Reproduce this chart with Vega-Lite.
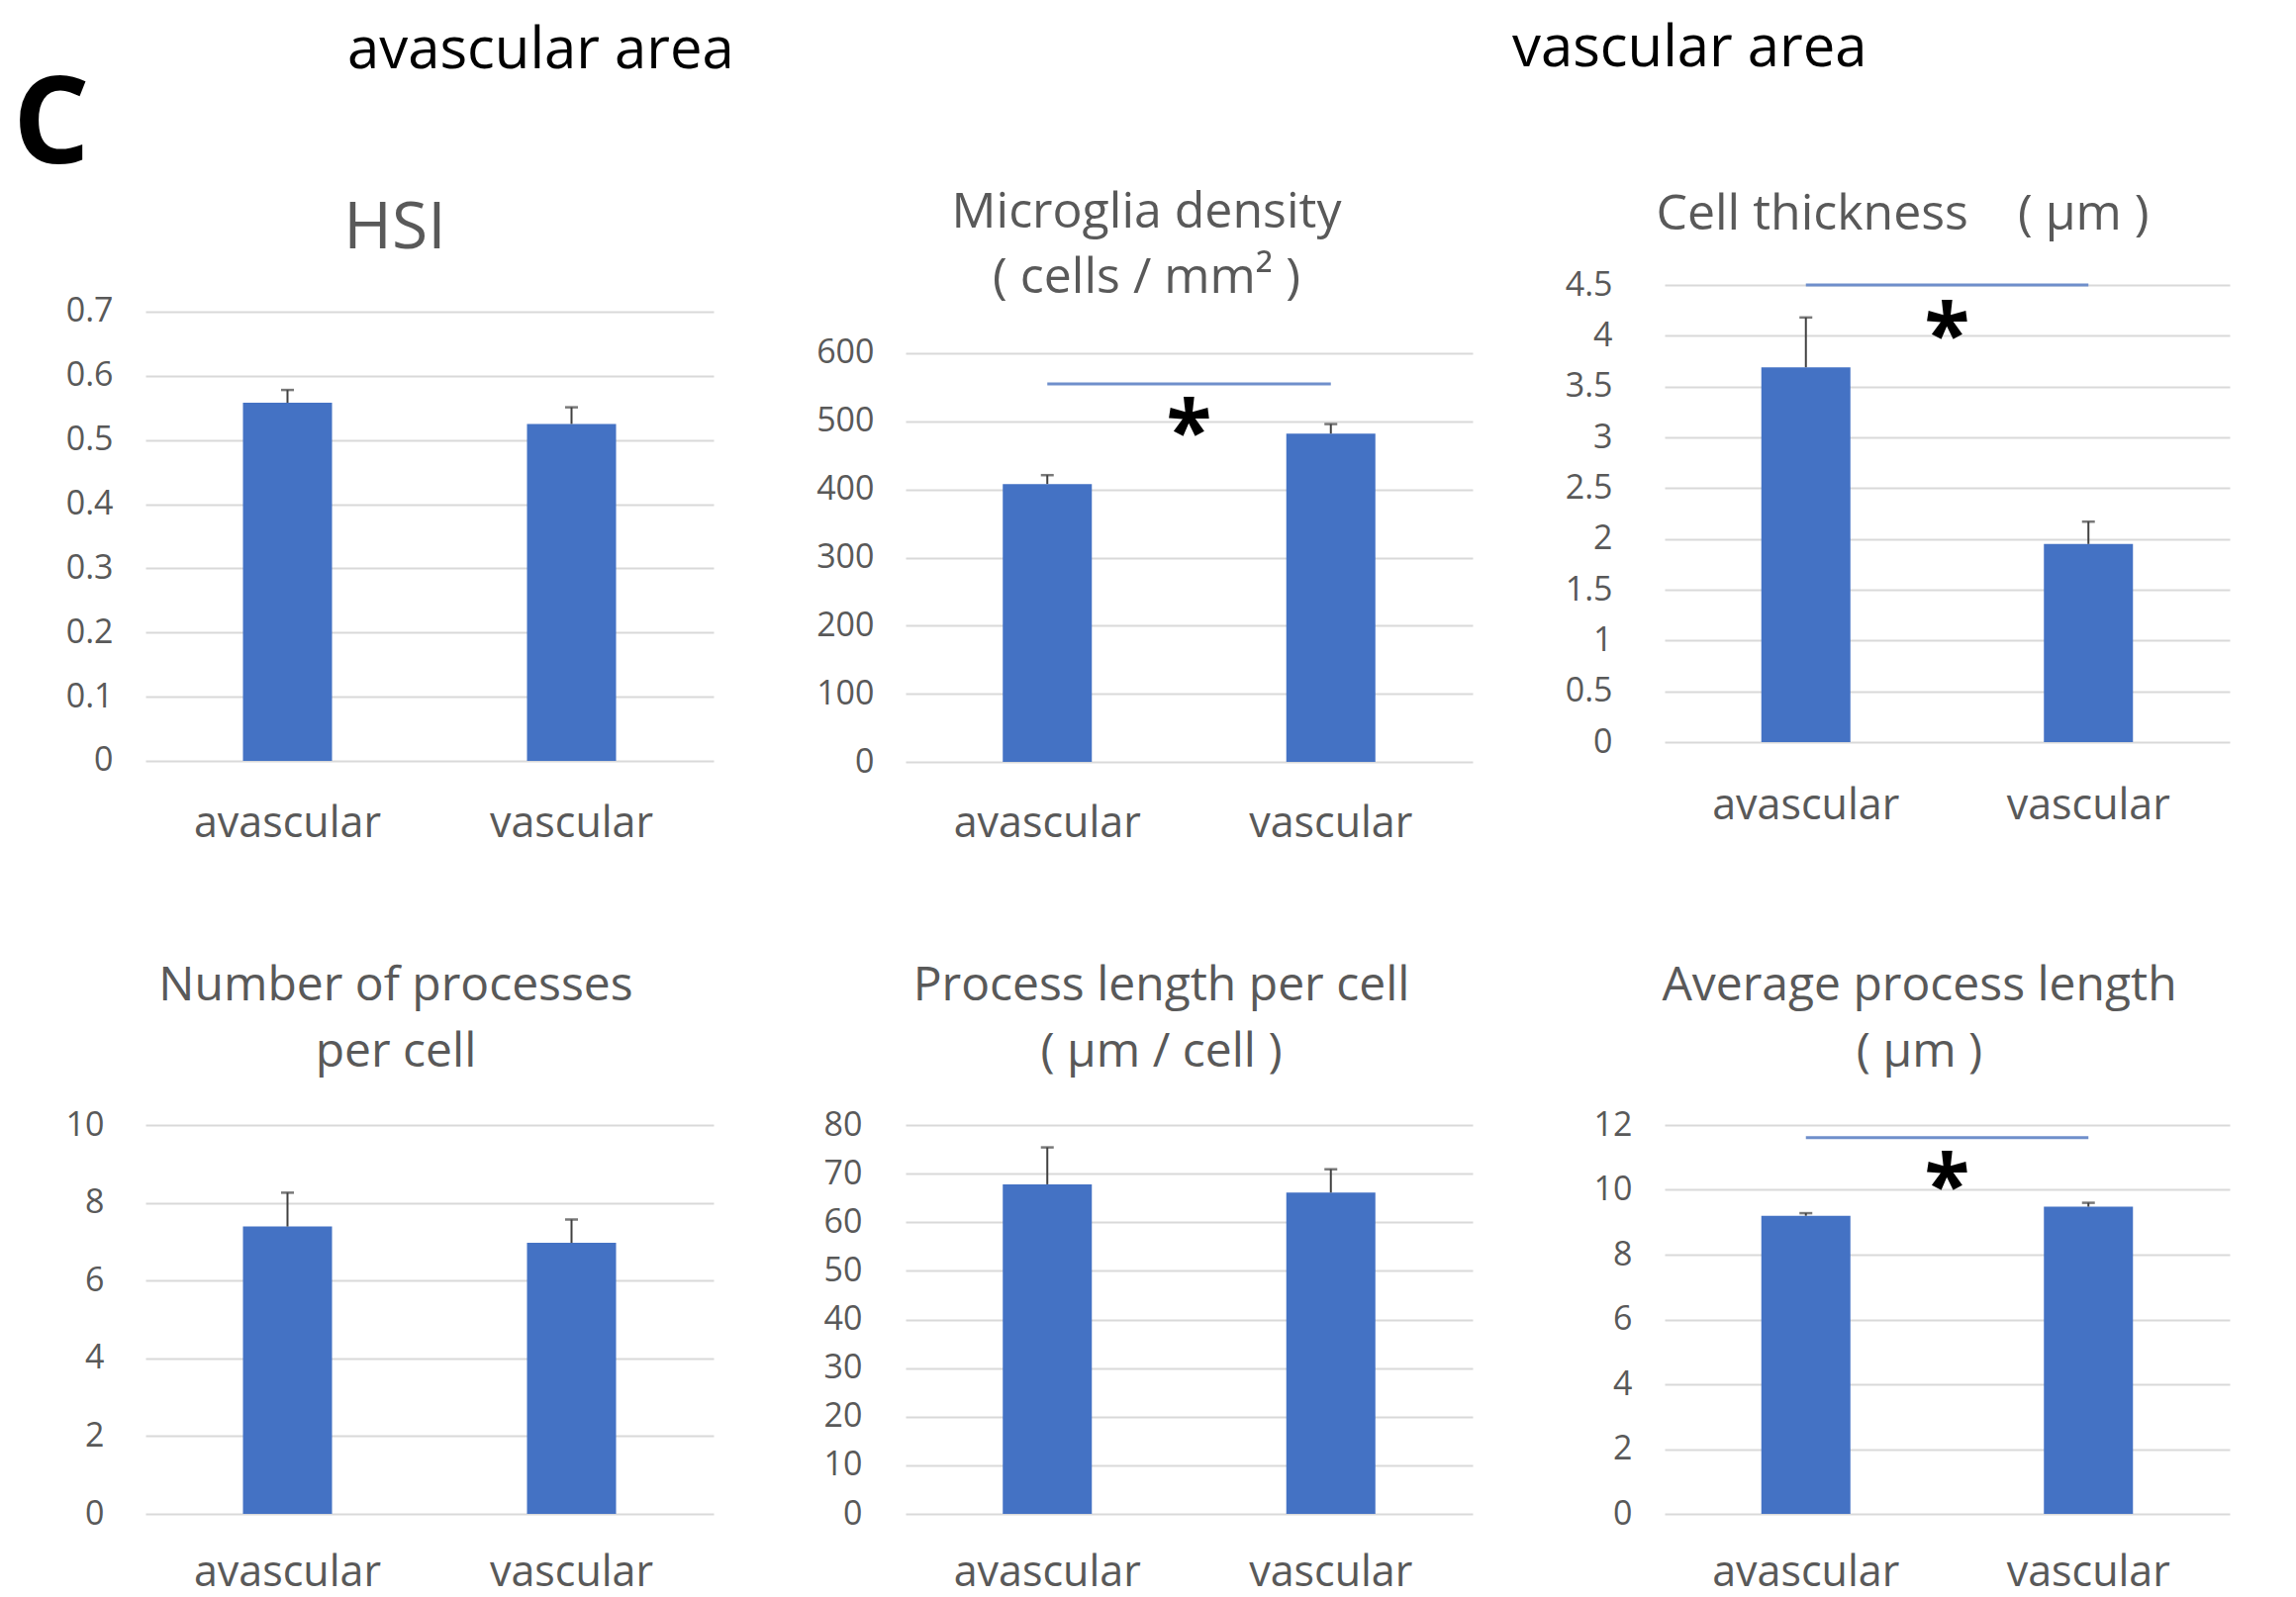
{
  "$schema": "https://vega.github.io/schema/vega-lite/v6.json",
  "background": "white",
  "padding": {"left": 13, "top": 21, "right": 10, "bottom": 10},
  "title": {"text": "C", "anchor": "start", "frame": "group", "dx": -134, "offset": -265.5, "fontSize": 122, "fontWeight": "bold", "color": "#000000", "baseline": "alphabetic", "font": "Open Sans"},
  "datasets": {
    "bars": [
      {"panel": "HSI", "group": "avascular", "value": 0.558, "upper": 0.578},
      {"panel": "HSI", "group": "vascular", "value": 0.525, "upper": 0.551},
      {"panel": "Density", "group": "avascular", "value": 408, "upper": 421},
      {"panel": "Density", "group": "vascular", "value": 482, "upper": 496},
      {"panel": "Thickness", "group": "avascular", "value": 3.69, "upper": 4.18},
      {"panel": "Thickness", "group": "vascular", "value": 1.95, "upper": 2.17},
      {"panel": "Processes", "group": "avascular", "value": 7.39, "upper": 8.26},
      {"panel": "Processes", "group": "vascular", "value": 6.97, "upper": 7.57},
      {"panel": "ProcLength", "group": "avascular", "value": 67.8, "upper": 75.4},
      {"panel": "ProcLength", "group": "vascular", "value": 66.1, "upper": 70.9},
      {"panel": "AvgLength", "group": "avascular", "value": 9.2, "upper": 9.28},
      {"panel": "AvgLength", "group": "vascular", "value": 9.48, "upper": 9.6}
    ],
    "sig": [
      {"panel": "Density", "from": "avascular", "to": "vascular", "line": 555, "star": 507, "label": "*"},
      {"panel": "Thickness", "from": "avascular", "to": "vascular", "line": 4.5, "star": 4.16, "label": "*"},
      {"panel": "AvgLength", "from": "avascular", "to": "vascular", "line": 11.61, "star": 10.6, "label": "*"}
    ]
  },
  "vconcat": [
    {
      "title": {"text": "avascular area", "anchor": "start", "frame": "group", "dx": 204, "offset": -105.5, "fontSize": 58, "color": "#000000", "baseline": "alphabetic", "font": "Open Sans"},
      "vconcat": [
        {
          "title": {"text": "vascular area", "anchor": "start", "frame": "group", "dx": 1381, "offset": 65, "fontSize": 58, "color": "#000000", "baseline": "alphabetic", "font": "Open Sans"},
          "columns": 3,
          "bounds": "flush",
          "align": "each",
          "spacing": {"row": 366, "column": 194},
          "concat": [
            {
              "width": 574, "height": 483,
              "title": {"text": "HSI", "fontSize": 66, "frame": "group", "anchor": "middle", "dx": -35, "offset": -29, "baseline": "alphabetic"},
              "layer": [
                {"data": {"name": "bars"}, "transform": [{"filter": {"field": "panel", "equal": "HSI"}}],
                 "mark": {"type": "bar", "width": 90, "color": "#4472C4"},
                 "encoding": {
                   "x": {"field": "group", "type": "nominal", "title": null, "scale": {"domain": ["avascular", "vascular"], "paddingInner": 0, "paddingOuter": 0}, "axis": {"labelPadding": 40}},
                   "y": {"field": "value", "type": "quantitative", "title": null, "scale": {"domain": [-0.0031, 0.7416], "nice": false, "zero": false}, "axis": {"values": [0, 0.1, 0.2, 0.3, 0.4, 0.5, 0.6, 0.7], "format": ".2~f", "labelPadding": 33}}
                 }},
                {"data": {"name": "bars"}, "transform": [{"filter": {"field": "panel", "equal": "HSI"}}],
                 "mark": {"type": "rule", "color": "#404040", "strokeWidth": 2},
                 "encoding": {
                   "x": {"field": "group", "type": "nominal", "scale": {"domain": ["avascular", "vascular"], "paddingInner": 0, "paddingOuter": 0}},
                   "y": {"field": "value", "type": "quantitative", "scale": {"domain": [-0.0031, 0.7416], "nice": false, "zero": false}},
                   "y2": {"field": "upper"}
                 }},
                {"data": {"name": "bars"}, "transform": [{"filter": {"field": "panel", "equal": "HSI"}}],
                 "mark": {"type": "tick", "color": "#404040", "thickness": 2.5, "size": 13},
                 "encoding": {
                   "x": {"field": "group", "type": "nominal", "scale": {"domain": ["avascular", "vascular"], "paddingInner": 0, "paddingOuter": 0}},
                   "y": {"field": "upper", "type": "quantitative", "scale": {"domain": [-0.0031, 0.7416], "nice": false, "zero": false}}
                 }}
              ]
            },
            {
              "width": 573, "height": 483,
              "title": {"text": ["Microglia density", "( cells / mm² )"], "fontSize": 50, "lineHeight": 66, "frame": "group", "anchor": "middle", "dx": -43, "offset": -58, "baseline": "alphabetic"},
              "layer": [
                {"data": {"name": "bars"}, "transform": [{"filter": {"field": "panel", "equal": "Density"}}],
                 "mark": {"type": "bar", "width": 90, "color": "#4472C4"},
                 "encoding": {
                   "x": {"field": "group", "type": "nominal", "title": null, "scale": {"domain": ["avascular", "vascular"], "paddingInner": 0, "paddingOuter": 0}, "axis": {"labelPadding": 40}},
                   "y": {"field": "value", "type": "quantitative", "title": null, "scale": {"domain": [-1.45, 700.24], "nice": false, "zero": false}, "axis": {"values": [0, 100, 200, 300, 400, 500, 600], "format": ".2~f", "labelPadding": 32}}
                 }},
                {"data": {"name": "bars"}, "transform": [{"filter": {"field": "panel", "equal": "Density"}}],
                 "mark": {"type": "rule", "color": "#404040", "strokeWidth": 2},
                 "encoding": {
                   "x": {"field": "group", "type": "nominal", "scale": {"domain": ["avascular", "vascular"], "paddingInner": 0, "paddingOuter": 0}},
                   "y": {"field": "value", "type": "quantitative", "scale": {"domain": [-1.45, 700.24], "nice": false, "zero": false}},
                   "y2": {"field": "upper"}
                 }},
                {"data": {"name": "bars"}, "transform": [{"filter": {"field": "panel", "equal": "Density"}}],
                 "mark": {"type": "tick", "color": "#404040", "thickness": 2.5, "size": 13},
                 "encoding": {
                   "x": {"field": "group", "type": "nominal", "scale": {"domain": ["avascular", "vascular"], "paddingInner": 0, "paddingOuter": 0}},
                   "y": {"field": "upper", "type": "quantitative", "scale": {"domain": [-1.45, 700.24], "nice": false, "zero": false}}
                 }},
                {"data": {"name": "sig"}, "transform": [{"filter": {"field": "panel", "equal": "Density"}}],
                 "mark": {"type": "rule", "color": "#6F8FCB", "strokeWidth": 3},
                 "encoding": {
                   "x": {"field": "from", "type": "nominal", "scale": {"domain": ["avascular", "vascular"], "paddingInner": 0, "paddingOuter": 0}},
                   "x2": {"field": "to"},
                   "y": {"field": "line", "type": "quantitative", "scale": {"domain": [-1.45, 700.24], "nice": false, "zero": false}}
                 }},
                {"data": {"name": "sig"}, "transform": [{"filter": {"field": "panel", "equal": "Density"}}],
                 "mark": {"type": "text", "font": "Open Sans", "fontWeight": "bold", "fontSize": 84, "color": "#000000", "baseline": "alphabetic", "align": "center", "dy": 44},
                 "encoding": {
                   "x": {"field": "to", "type": "nominal", "bandPosition": 0, "scale": {"domain": ["avascular", "vascular"], "paddingInner": 0, "paddingOuter": 0}},
                   "y": {"field": "star", "type": "quantitative", "scale": {"domain": [-1.45, 700.24], "nice": false, "zero": false}},
                   "text": {"field": "label"}
                 }}
              ]
            },
            {
              "width": 571, "height": 483,
              "title": {"text": "Cell thickness\u2003( µm )", "fontSize": 50, "frame": "group", "anchor": "middle", "dx": -45, "offset": -11, "baseline": "alphabetic"},
              "layer": [
                {"data": {"name": "bars"}, "transform": [{"filter": {"field": "panel", "equal": "Thickness"}}],
                 "mark": {"type": "bar", "width": 90, "color": "#4472C4"},
                 "encoding": {
                   "x": {"field": "group", "type": "nominal", "title": null, "scale": {"domain": ["avascular", "vascular"], "paddingInner": 0, "paddingOuter": 0}, "axis": {"labelPadding": 22}},
                   "y": {"field": "value", "type": "quantitative", "title": null, "scale": {"domain": [-0.2045, 4.5], "nice": false, "zero": false}, "axis": {"values": [0, 0.5, 1, 1.5, 2, 2.5, 3, 3.5, 4, 4.5], "format": ".2~f", "labelPadding": 53}}
                 }},
                {"data": {"name": "bars"}, "transform": [{"filter": {"field": "panel", "equal": "Thickness"}}],
                 "mark": {"type": "rule", "color": "#404040", "strokeWidth": 2},
                 "encoding": {
                   "x": {"field": "group", "type": "nominal", "scale": {"domain": ["avascular", "vascular"], "paddingInner": 0, "paddingOuter": 0}},
                   "y": {"field": "value", "type": "quantitative", "scale": {"domain": [-0.2045, 4.5], "nice": false, "zero": false}},
                   "y2": {"field": "upper"}
                 }},
                {"data": {"name": "bars"}, "transform": [{"filter": {"field": "panel", "equal": "Thickness"}}],
                 "mark": {"type": "tick", "color": "#404040", "thickness": 2.5, "size": 13},
                 "encoding": {
                   "x": {"field": "group", "type": "nominal", "scale": {"domain": ["avascular", "vascular"], "paddingInner": 0, "paddingOuter": 0}},
                   "y": {"field": "upper", "type": "quantitative", "scale": {"domain": [-0.2045, 4.5], "nice": false, "zero": false}}
                 }},
                {"data": {"name": "sig"}, "transform": [{"filter": {"field": "panel", "equal": "Thickness"}}],
                 "mark": {"type": "rule", "color": "#6F8FCB", "strokeWidth": 3},
                 "encoding": {
                   "x": {"field": "from", "type": "nominal", "scale": {"domain": ["avascular", "vascular"], "paddingInner": 0, "paddingOuter": 0}},
                   "x2": {"field": "to"},
                   "y": {"field": "line", "type": "quantitative", "scale": {"domain": [-0.2045, 4.5], "nice": false, "zero": false}}
                 }},
                {"data": {"name": "sig"}, "transform": [{"filter": {"field": "panel", "equal": "Thickness"}}],
                 "mark": {"type": "text", "font": "Open Sans", "fontWeight": "bold", "fontSize": 84, "color": "#000000", "baseline": "alphabetic", "align": "center", "dy": 44},
                 "encoding": {
                   "x": {"field": "to", "type": "nominal", "bandPosition": 0, "scale": {"domain": ["avascular", "vascular"], "paddingInner": 0, "paddingOuter": 0}},
                   "y": {"field": "star", "type": "quantitative", "scale": {"domain": [-0.2045, 4.5], "nice": false, "zero": false}},
                   "text": {"field": "label"}
                 }}
              ]
            },
            {
              "width": 574, "height": 393,
              "title": {"text": ["Number of processes", "per cell"], "fontSize": 48, "lineHeight": 67, "frame": "group", "anchor": "middle", "dx": -34, "offset": -6, "baseline": "alphabetic"},
              "layer": [
                {"data": {"name": "bars"}, "transform": [{"filter": {"field": "panel", "equal": "Processes"}}],
                 "mark": {"type": "bar", "width": 90, "color": "#4472C4"},
                 "encoding": {
                   "x": {"field": "group", "type": "nominal", "title": null, "scale": {"domain": ["avascular", "vascular"], "paddingInner": 0, "paddingOuter": 0}, "axis": {"labelPadding": 38}},
                   "y": {"field": "value", "type": "quantitative", "title": null, "scale": {"domain": [0, 10], "nice": false, "zero": false}, "axis": {"values": [0, 2, 4, 6, 8, 10], "format": ".2~f", "labelPadding": 42}}
                 }},
                {"data": {"name": "bars"}, "transform": [{"filter": {"field": "panel", "equal": "Processes"}}],
                 "mark": {"type": "rule", "color": "#404040", "strokeWidth": 2},
                 "encoding": {
                   "x": {"field": "group", "type": "nominal", "scale": {"domain": ["avascular", "vascular"], "paddingInner": 0, "paddingOuter": 0}},
                   "y": {"field": "value", "type": "quantitative", "scale": {"domain": [0, 10], "nice": false, "zero": false}},
                   "y2": {"field": "upper"}
                 }},
                {"data": {"name": "bars"}, "transform": [{"filter": {"field": "panel", "equal": "Processes"}}],
                 "mark": {"type": "tick", "color": "#404040", "thickness": 2.5, "size": 13},
                 "encoding": {
                   "x": {"field": "group", "type": "nominal", "scale": {"domain": ["avascular", "vascular"], "paddingInner": 0, "paddingOuter": 0}},
                   "y": {"field": "upper", "type": "quantitative", "scale": {"domain": [0, 10], "nice": false, "zero": false}}
                 }}
              ]
            },
            {
              "width": 573, "height": 393,
              "title": {"text": ["Process length per cell", "( µm / cell )"], "fontSize": 48, "lineHeight": 67, "frame": "group", "anchor": "middle", "dx": -28, "offset": -6, "baseline": "alphabetic"},
              "layer": [
                {"data": {"name": "bars"}, "transform": [{"filter": {"field": "panel", "equal": "ProcLength"}}],
                 "mark": {"type": "bar", "width": 90, "color": "#4472C4"},
                 "encoding": {
                   "x": {"field": "group", "type": "nominal", "title": null, "scale": {"domain": ["avascular", "vascular"], "paddingInner": 0, "paddingOuter": 0}, "axis": {"labelPadding": 38}},
                   "y": {"field": "value", "type": "quantitative", "title": null, "scale": {"domain": [0, 80], "nice": false, "zero": false}, "axis": {"values": [0, 10, 20, 30, 40, 50, 60, 70, 80], "format": ".2~f", "labelPadding": 44}}
                 }},
                {"data": {"name": "bars"}, "transform": [{"filter": {"field": "panel", "equal": "ProcLength"}}],
                 "mark": {"type": "rule", "color": "#404040", "strokeWidth": 2},
                 "encoding": {
                   "x": {"field": "group", "type": "nominal", "scale": {"domain": ["avascular", "vascular"], "paddingInner": 0, "paddingOuter": 0}},
                   "y": {"field": "value", "type": "quantitative", "scale": {"domain": [0, 80], "nice": false, "zero": false}},
                   "y2": {"field": "upper"}
                 }},
                {"data": {"name": "bars"}, "transform": [{"filter": {"field": "panel", "equal": "ProcLength"}}],
                 "mark": {"type": "tick", "color": "#404040", "thickness": 2.5, "size": 13},
                 "encoding": {
                   "x": {"field": "group", "type": "nominal", "scale": {"domain": ["avascular", "vascular"], "paddingInner": 0, "paddingOuter": 0}},
                   "y": {"field": "upper", "type": "quantitative", "scale": {"domain": [0, 80], "nice": false, "zero": false}}
                 }}
              ]
            },
            {
              "width": 571, "height": 393,
              "title": {"text": ["Average process length", "( µm )"], "fontSize": 48, "lineHeight": 67, "frame": "group", "anchor": "middle", "dx": -28, "offset": -6, "baseline": "alphabetic"},
              "layer": [
                {"data": {"name": "bars"}, "transform": [{"filter": {"field": "panel", "equal": "AvgLength"}}],
                 "mark": {"type": "bar", "width": 90, "color": "#4472C4"},
                 "encoding": {
                   "x": {"field": "group", "type": "nominal", "title": null, "scale": {"domain": ["avascular", "vascular"], "paddingInner": 0, "paddingOuter": 0}, "axis": {"labelPadding": 38}},
                   "y": {"field": "value", "type": "quantitative", "title": null, "scale": {"domain": [0, 12], "nice": false, "zero": false}, "axis": {"values": [0, 2, 4, 6, 8, 10, 12], "format": ".2~f", "labelPadding": 33}}
                 }},
                {"data": {"name": "bars"}, "transform": [{"filter": {"field": "panel", "equal": "AvgLength"}}],
                 "mark": {"type": "rule", "color": "#404040", "strokeWidth": 2},
                 "encoding": {
                   "x": {"field": "group", "type": "nominal", "scale": {"domain": ["avascular", "vascular"], "paddingInner": 0, "paddingOuter": 0}},
                   "y": {"field": "value", "type": "quantitative", "scale": {"domain": [0, 12], "nice": false, "zero": false}},
                   "y2": {"field": "upper"}
                 }},
                {"data": {"name": "bars"}, "transform": [{"filter": {"field": "panel", "equal": "AvgLength"}}],
                 "mark": {"type": "tick", "color": "#404040", "thickness": 2.5, "size": 13},
                 "encoding": {
                   "x": {"field": "group", "type": "nominal", "scale": {"domain": ["avascular", "vascular"], "paddingInner": 0, "paddingOuter": 0}},
                   "y": {"field": "upper", "type": "quantitative", "scale": {"domain": [0, 12], "nice": false, "zero": false}}
                 }},
                {"data": {"name": "sig"}, "transform": [{"filter": {"field": "panel", "equal": "AvgLength"}}],
                 "mark": {"type": "rule", "color": "#6F8FCB", "strokeWidth": 3},
                 "encoding": {
                   "x": {"field": "from", "type": "nominal", "scale": {"domain": ["avascular", "vascular"], "paddingInner": 0, "paddingOuter": 0}},
                   "x2": {"field": "to"},
                   "y": {"field": "line", "type": "quantitative", "scale": {"domain": [0, 12], "nice": false, "zero": false}}
                 }},
                {"data": {"name": "sig"}, "transform": [{"filter": {"field": "panel", "equal": "AvgLength"}}],
                 "mark": {"type": "text", "font": "Open Sans", "fontWeight": "bold", "fontSize": 84, "color": "#000000", "baseline": "alphabetic", "align": "center", "dy": 44},
                 "encoding": {
                   "x": {"field": "to", "type": "nominal", "bandPosition": 0, "scale": {"domain": ["avascular", "vascular"], "paddingInner": 0, "paddingOuter": 0}},
                   "y": {"field": "star", "type": "quantitative", "scale": {"domain": [0, 12], "nice": false, "zero": false}},
                   "text": {"field": "label"}
                 }}
              ]
            }
          ]
        }
      ]
    }
  ],
  "config": {
    "font": "Open Sans",
    "view": {"stroke": null},
    "axis": {"domain": false, "ticks": false, "labelFont": "Open Sans", "labelColor": "#595959"},
    "axisX": {"grid": false, "labelFontSize": 43, "labelAngle": 0, "labelLimit": 600},
    "axisY": {"grid": true, "gridColor": "#D9D9D9", "gridWidth": 2, "labelFontSize": 34},
    "title": {"font": "Open Sans", "color": "#595959", "fontWeight": "normal"}
  }
}
